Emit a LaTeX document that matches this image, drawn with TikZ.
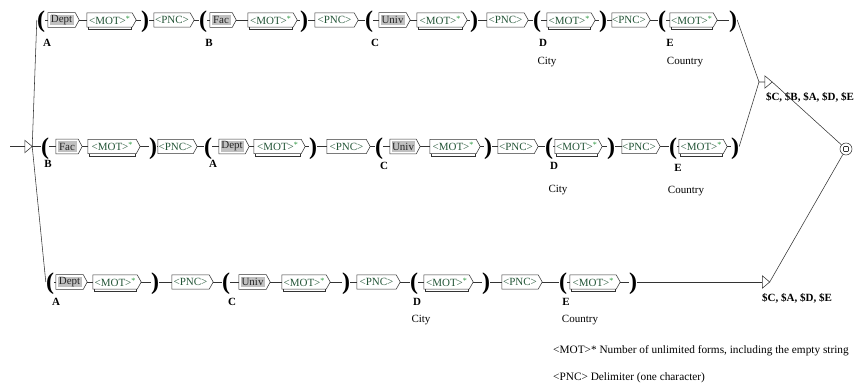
\documentclass[tikz,border=0pt]{standalone}
\usepackage{fontspec}
\setmainfont{Liberation Serif}
\usetikzlibrary{calc}
\definecolor{txtg}{RGB}{35,85,55}
\definecolor{starg}{RGB}{40,150,60}
\definecolor{gfill}{RGB}{192,192,192}
\tikzset{
 line/.style={draw=black!80, line width=0.55pt},
 btext/.style={inner sep=0pt, minimum height=14pt, font=\fontsize{11}{11}\selectfont, text=txtg},
 gtext/.style={inner sep=0pt, minimum height=10.5pt, fill=gfill, font=\fontsize{11}{11}\selectfont, text=black!85},
 par/.style={inner sep=0pt, font=\fontsize{24}{24}\selectfont\bfseries},
 lab/.style={font=\fontsize{11}{12}\selectfont\bfseries, inner sep=0pt},
 nlab/.style={font=\fontsize{11}{12}\selectfont, inner sep=0pt},
 tri/.style={inner sep=0pt, minimum width=7pt, minimum height=12pt},
}
\newcommand\wbox[5]{%
 \node[btext, minimum width={(#4-#2-4)*1pt}] (#1) at ({(#2+#4)/2-2},#3) {#5};
 \draw[line] (#1.north west) -- (#1.north east) -- ([xshift=4pt]#1.east) -- (#1.south east) -- (#1.south west) -- cycle;
 \coordinate (#1i) at (#1.west);
 \coordinate (#1o) at ([xshift=4pt]#1.east);}
\newcommand\gxbox[5]{%
 \node[gtext, minimum width={(#4-#2-7)*1pt}] (#1) at ({(#2+#4)/2-2},#3) {#5};
 \draw[line] ([shift={(-1.5pt,2pt)}]#1.north west) -- ([shift={(1.5pt,2pt)}]#1.north east) -- ([xshift=5.5pt]#1.east) -- ([shift={(1.5pt,-2pt)}]#1.south east) -- ([shift={(-1.5pt,-2pt)}]#1.south west) -- cycle;
 \coordinate (#1i) at ([xshift=-1.5pt]#1.west);
 \coordinate (#1o) at ([xshift=5.5pt]#1.east);}
\newcommand\motb[4]{%
 \wbox{#1}{#2}{#3}{#4}{<MOT>{\color{starg}\raisebox{3pt}{\fontsize{8}{8}\selectfont*}}}
 \draw[line] ([xshift=-1pt]#1.south east) -- ++(0pt,-2.5pt) -| ([xshift=1pt]#1.south west);}
\newcommand\pncb[4]{\wbox{#1}{#2}{#3}{#4}{<PNC>}}
\newcommand\opar[3]{%
 \node[par] (#1) at (#2,{#3+2}) {(};
 \coordinate (#1i) at (#1.west |- 0,#3);
 \coordinate (#1o) at (#1.east |- 0,#3);}
\newcommand\cpar[3]{%
 \node[par] (#1) at (#2,{#3+2}) {)};
 \coordinate (#1i) at (#1.west |- 0,#3);
 \coordinate (#1o) at (#1.east |- 0,#3);}
\begin{document}
\begin{tikzpicture}[x=1pt,y=-1pt]
\useasboundingbox (0,0) rectangle (858,385);
% Row 1
\opar{a1}{41}{20}
\gxbox{a2}{48}{20}{79}{Dept}
\motb{a3}{87}{20}{136}
\cpar{a4}{145}{20}
\pncb{a5}{154}{20}{194}
\opar{a6}{203}{20}
\gxbox{a7}{210}{20}{236}{Fac}
\motb{a8}{248}{20}{297}
\cpar{a9}{304}{20}
\pncb{a10}{315}{20}{358}
\opar{a11}{369}{20}
\gxbox{a12}{379}{20}{410}{Univ}
\motb{a13}{417}{20}{467}
\cpar{a14}{474}{20}
\pncb{a15}{487}{20}{528}
\opar{a16}{537}{20}
\motb{a17}{547}{20}{595}
\cpar{a18}{603}{20}
\pncb{a19}{612}{20}{650}
\opar{a20}{662}{20}
\motb{a21}{670}{20}{717}
\cpar{a22}{733}{20}
\foreach \i [evaluate=\i as \j using int(\i+1)] in {1,...,21} {\draw[line] (a\i o) -- (a\j i);}
\node[lab] (la1) at (47,43) {A};
\node[lab] (la6) at (209,43) {B};
\node[lab] (la11) at (375,43) {C};
\node[lab] (la16) at (543,43) {D};
\node[nlab] (lc16) at (547,62) {City};
\node[lab] (la20) at (670,43) {E};
\node[nlab] (lc20) at (685,62) {Country};
% Row 2
\opar{b1}{45}{146.5}
\gxbox{b2}{56}{146.5}{82}{Fac}
\motb{b3}{88}{146.5}{140}
\cpar{b4}{153}{146.5}
\pncb{b5}{158}{146.5}{197}
\opar{b6}{208}{146.5}
\gxbox{b7}{219}{146.5}{249}{Dept}
\motb{b8}{254}{146.5}{305}
\cpar{b9}{313}{146.5}
\pncb{b10}{327}{146.5}{370}
\opar{b11}{379}{146.5}
\gxbox{b12}{390}{146.5}{420}{Univ}
\motb{b13}{430}{146.5}{480}
\cpar{b14}{488}{146.5}
\pncb{b15}{498}{146.5}{538}
\opar{b16}{549}{146.5}
\motb{b17}{555}{146.5}{602}
\cpar{b18}{611}{146.5}
\pncb{b19}{622}{146.5}{660}
\opar{b20}{673}{146.5}
\motb{b21}{679}{146.5}{727}
\cpar{b22}{735}{146.5}
\foreach \i [evaluate=\i as \j using int(\i+1)] in {1,...,21} {\draw[line] (b\i o) -- (b\j i);}
\node[lab] (lb1) at (48,164) {B};
\node[lab] (lb6) at (213,164) {A};
\node[lab] (lb11) at (384,166) {C};
\node[lab] (lb16) at (554,166) {D};
\node[nlab] (ld16) at (558,190) {City};
\node[lab] (lb20) at (678,168) {E};
\node[nlab] (ld20) at (686,191) {Country};
% Row 3
\opar{c1}{50}{282}
\gxbox{c2}{56}{282}{87}{Dept}
\motb{c3}{93}{282}{141}
\cpar{c4}{155}{282}
\pncb{c5}{172}{282}{213}
\opar{c6}{226}{282}
\gxbox{c7}{239}{282}{270}{Univ}
\motb{c8}{282}{282}{330}
\cpar{c9}{346}{282}
\pncb{c10}{357}{282}{400}
\opar{c11}{414}{282}
\motb{c12}{424}{282}{473}
\cpar{c13}{486}{282}
\pncb{c14}{502}{282}{542}
\opar{c15}{563}{282}
\motb{c16}{570}{282}{620}
\cpar{c17}{633}{282}
\foreach \i [evaluate=\i as \j using int(\i+1)] in {1,...,16} {\draw[line] (c\i o) -- (c\j i);}
\node[lab] (lc1) at (56,302) {A};
\node[lab] (lc6) at (232,302) {C};
\node[lab] (lc11) at (417,302) {D};
\node[nlab] (le11) at (421,320) {City};
\node[lab] (lc15) at (566,302) {E};
\node[nlab] (le15) at (580,320) {Country};
% initial state
\node[tri] (init) at (28.5,146.5) {};
\draw[line] (init.north west) -- (init.east) -- (init.south west) -- cycle;
\coordinate (istart) at (10,146.5);
\draw[line] (istart) -- (init.west);
\draw[line] (init.east) -- (a1i);
\draw[line] (init.east) -- (b1i);
\draw[line] (init.east) -- (c1i);
% outputs
\node[tri] (o1) at (768.5,82) {};
\draw[line] (o1.north west) -- (o1.east) -- (o1.south west) -- cycle;
\coordinate (j1) at (759,82);
\draw[line] (a22o) -- (j1) -- (o1.west);
\draw[line] (b22o) -- (j1);
\node[lab] (ol1) at (810,97) {\$C, \$B, \$A, \$D, \$E};
\node[tri] (o2) at (766,282) {};
\draw[line] (o2.north west) -- (o2.east) -- (o2.south west) -- cycle;
\draw[line] (c17o) -- (o2.west);
\node[lab] (ol2) at (797,298) {\$C, \$A, \$D, \$E};
% final state
\node[circle, line, minimum size=12pt, inner sep=0pt] (fin) at (846,149) {};
\draw[line, rounded corners=0.8pt] ([shift={(-2.5pt,-2.5pt)}]fin.center) rectangle ([shift={(2.5pt,2.5pt)}]fin.center);
\draw[line] (o1.east) -- (fin);
\draw[line] (o2.east) -- (fin);
% legend
\node[nlab, anchor=west, font=\fontsize{11.3}{12}\selectfont] (leg1) at (553,351) {<MOT>* Number of unlimited forms, including the empty string};
\node[nlab, anchor=west, font=\fontsize{11.3}{12}\selectfont] (leg2) at (553,378) {<PNC> Delimiter (one character)};
\end{tikzpicture}
\end{document}
